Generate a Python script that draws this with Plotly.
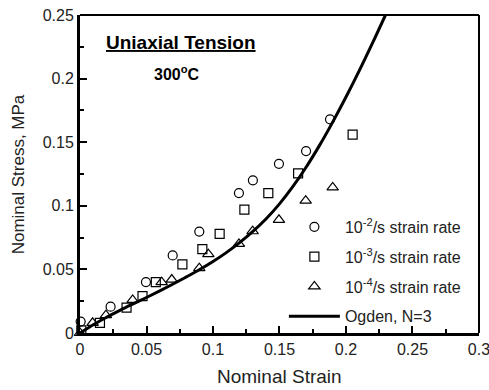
import plotly.graph_objects as go

# ---- data ----
strain_1e2 = [0.0005, 0.023, 0.0496, 0.0697, 0.0897, 0.1195, 0.130, 0.1496, 0.170, 0.188]
stress_1e2 = [0.009, 0.0207, 0.040, 0.061, 0.0797, 0.110, 0.120, 0.133, 0.143, 0.168]

strain_1e3 = [0.001, 0.015, 0.035, 0.047, 0.057, 0.077, 0.092, 0.105, 0.1236, 0.1416, 0.164, 0.205]
stress_1e3 = [0.002, 0.008, 0.020, 0.029, 0.040, 0.054, 0.066, 0.078, 0.097, 0.110, 0.1255, 0.156]

strain_1e4 = [0.0, 0.0095, 0.0195, 0.0396, 0.0614, 0.069, 0.0897, 0.0965, 0.1195, 0.1298, 0.1496, 0.1697, 0.190]
stress_1e4 = [0.0, 0.008, 0.014, 0.026, 0.040, 0.042, 0.051, 0.062, 0.070, 0.080, 0.089, 0.104, 0.1145]

ogden_strain = [0, 0.01, 0.02, 0.03, 0.04, 0.05, 0.06, 0.07, 0.08, 0.09, 0.10, 0.11, 0.12,
                0.13, 0.14, 0.15, 0.16, 0.17, 0.18, 0.19, 0.20, 0.21, 0.22, 0.2297]
ogden_stress = [0, 0.0065, 0.0124, 0.0178, 0.0229, 0.0279, 0.0331, 0.0385, 0.0441, 0.0499, 0.0562,
                0.0632, 0.0710, 0.0798, 0.0898, 0.1015, 0.1150, 0.1303, 0.1473, 0.1658, 0.1855,
                0.2063, 0.2281, 0.250]

x_tickvals = [0, 0.05, 0.1, 0.15, 0.2, 0.25, 0.3]
x_ticktext = ["0", "0.05", "0.1", "0.15", "0.2", "0.25", "0.3"]
x_minor = [0.025, 0.075, 0.125, 0.175, 0.225, 0.275]
y_tickvals = [0, 0.05, 0.1, 0.15, 0.2, 0.25]
y_ticktext = ["0", "0.05", "0.1", "0.15", "0.2", "0.25"]
y_minor = [0.025, 0.075, 0.125, 0.175, 0.225]

FONT = "Arial, Liberation Sans, sans-serif"

fig = go.Figure()
marker_common = dict(color="black", size=9, line=dict(width=1.2, color="black"))
fig.add_trace(go.Scatter(x=strain_1e2, y=stress_1e2, mode="markers", cliponaxis=False,
                         marker=dict(symbol="circle-open", **marker_common),
                         name="10<sup>-2</sup>/s strain rate", legendgroup="a"))
fig.add_trace(go.Scatter(x=strain_1e3, y=stress_1e3, mode="markers", cliponaxis=False,
                         marker=dict(symbol="square-open", **marker_common),
                         name="10<sup>-3</sup>/s strain rate", legendgroup="b"))
fig.add_trace(go.Scatter(x=strain_1e4, y=stress_1e4, mode="markers", cliponaxis=False,
                         marker=dict(symbol="triangle-up-open", color="black", size=10,
                                     line=dict(width=1.2, color="black")),
                         name="10<sup>-4</sup>/s strain rate", legendgroup="c"))
fig.add_trace(go.Scatter(x=ogden_strain, y=ogden_stress, mode="lines",
                         line=dict(color="black", width=3, shape="spline"),
                         name="Ogden, N=3", legendgroup="d"))

axis_common = dict(showgrid=False, zeroline=False, showline=True, linecolor="black", linewidth=3,
                   ticks="inside", ticklen=7, tickwidth=2, tickcolor="black",
                   ticklabeloverflow="allow", automargin=False,
                   tickfont=dict(family=FONT, size=16, color="#222"))

fig.update_xaxes(range=[0, 0.30002], tickmode="array", tickvals=x_tickvals, ticktext=x_ticktext,
                 minor=dict(tickmode="array", tickvals=x_minor, ticks="inside", ticklen=4,
                            tickwidth=2, tickcolor="black"),
                 **axis_common)
fig.update_yaxes(range=[0, 0.25], tickmode="array", tickvals=y_tickvals, ticktext=y_ticktext,
                 minor=dict(tickmode="array", tickvals=y_minor, ticks="inside", ticklen=4,
                            tickwidth=2, tickcolor="black"),
                 **axis_common)

fig.add_shape(type="line", xref="paper", yref="paper", x0=0, x1=1, y0=1, y1=1,
              line=dict(color="black", width=2))
fig.add_shape(type="line", xref="paper", yref="paper", x0=1, x1=1, y0=0, y1=1,
              line=dict(color="black", width=2))

# axis titles as annotations at the reference positions
fig.add_annotation(x=0.5, y=-0.138, xref="paper", yref="paper", showarrow=False,
                   xanchor="center", yanchor="middle", text="Nominal Strain",
                   font=dict(family=FONT, size=19, color="#222"))
fig.add_annotation(x=-0.1545, y=0.5, xref="paper", yref="paper", showarrow=False,
                   xanchor="center", yanchor="middle", text="Nominal Stress, MPa", textangle=-90,
                   font=dict(family=FONT, size=17, color="#222"))

fig.add_annotation(x=0.252, y=0.912, xref="paper", yref="paper", showarrow=False,
                   xanchor="center", yanchor="middle",
                   text="<b><u>Uniaxial Tension</u></b>",
                   font=dict(family=FONT, size=19, color="black"))
fig.add_annotation(x=0.243, y=0.818, xref="paper", yref="paper", showarrow=False,
                   xanchor="center", yanchor="middle",
                   text="<b>300<sup>o</sup>C</b>",
                   font=dict(family=FONT, size=16, color="black"))

fig.update_layout(
    width=489, height=390,
    margin=dict(l=80, r=10, t=15, b=57),
    paper_bgcolor="white", plot_bgcolor="white",
    font=dict(family=FONT, size=16, color="#222"),
    legend=dict(x=0.511, y=0.387, xanchor="left", yanchor="top", itemwidth=51,
                tracegroupgap=6, bgcolor="rgba(0,0,0,0)",
                font=dict(family=FONT, size=16, color="#222")),
)

fig.write_html("out.html")
